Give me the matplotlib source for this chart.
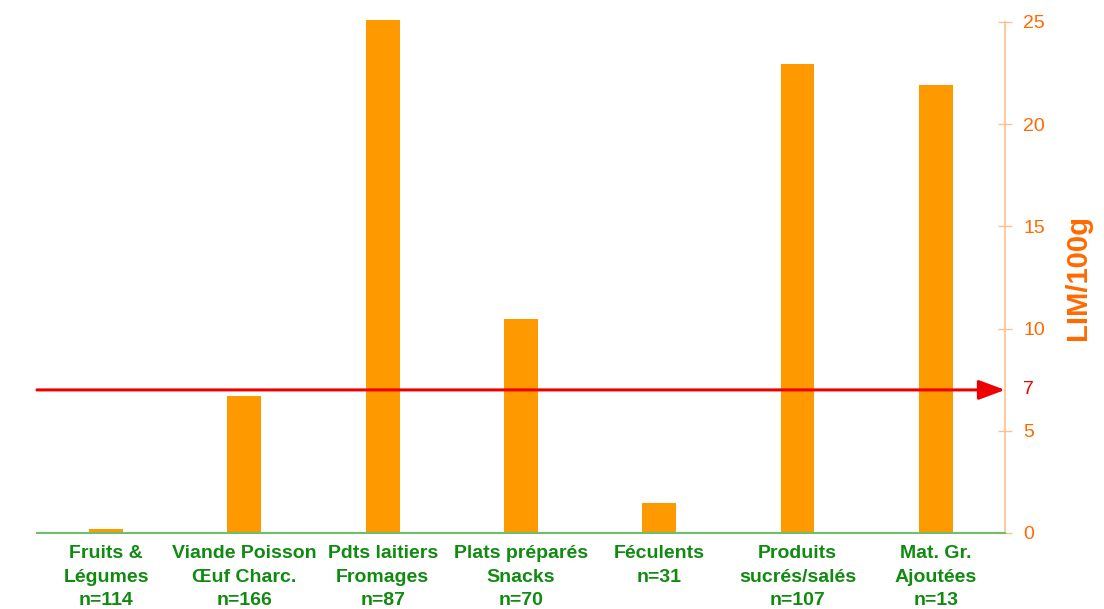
import matplotlib.pyplot as plt

categories = ["Fruits &\nLégumes\nn=114", "Viande Poisson\nŒuf Charc.\nn=166",
              "Pdts laitiers\nFromages\nn=87", "Plats préparés\nSnacks\nn=70",
              "Féculents\nn=31", "Produits\nsucrés/salés\nn=107", "Mat. Gr.\nAjoutées\nn=13"]
lim_values = [0.2, 6.7, 25.1, 10.45, 1.45, 22.95, 21.9]
y_ticks = [0, 5, 10, 15, 20, 25]
threshold = 7

plt.rcParams['font.family'] = ['Liberation Sans', 'DejaVu Sans']

fig = plt.figure(figsize=(11.04, 6.09), dpi=100)
ax = fig.add_axes([0.0335, 0.1248, 0.8768, 0.8391])

x = list(range(len(categories)))
bars = ax.bar(x, lim_values, width=0.245, color='#FF9900', zorder=2)
for b in bars:
    b.set_clip_on(False)

ax.set_xlim(-0.5, 6.5)
ax.set_ylim(0, 25)

# right axis only
ax.yaxis.tick_right()
ax.yaxis.set_label_position('right')
ax.spines['left'].set_visible(False)
ax.spines['top'].set_visible(False)
ax.spines['right'].set_color('#FFC08A')
ax.spines['right'].set_linewidth(1.2)
ax.spines['bottom'].set_color('#6DBE6D')
ax.spines['bottom'].set_linewidth(1.5)
ax.set_yticks(y_ticks)
ax.tick_params(axis='y', direction='inout', length=10, width=1, color='#FFC08A',
               labelcolor='#FF6A00', labelsize=14, pad=8)
ax.set_ylabel('LIM/100g', color='#FF6A00', fontsize=21, fontweight='bold', labelpad=14)

ax.set_xticks(x)
ax.set_xticklabels(categories, color='#108A10', fontsize=14, fontweight='bold',
                   linespacing=1.5, va='top')
ax.tick_params(axis='x', length=0, pad=9)

# threshold arrow
ax.annotate('', xy=(6.5, threshold), xytext=(-0.5, threshold),
            arrowprops=dict(arrowstyle='-|>,head_length=1.6,head_width=0.6',
                            color='#EE0000', lw=2.2, shrinkA=0, shrinkB=0), zorder=3)
ax.text(6.63, threshold, str(threshold), color='#EE0000', fontsize=14, va='center',
        ha='left')

fig.savefig('out.png', dpi=100)
